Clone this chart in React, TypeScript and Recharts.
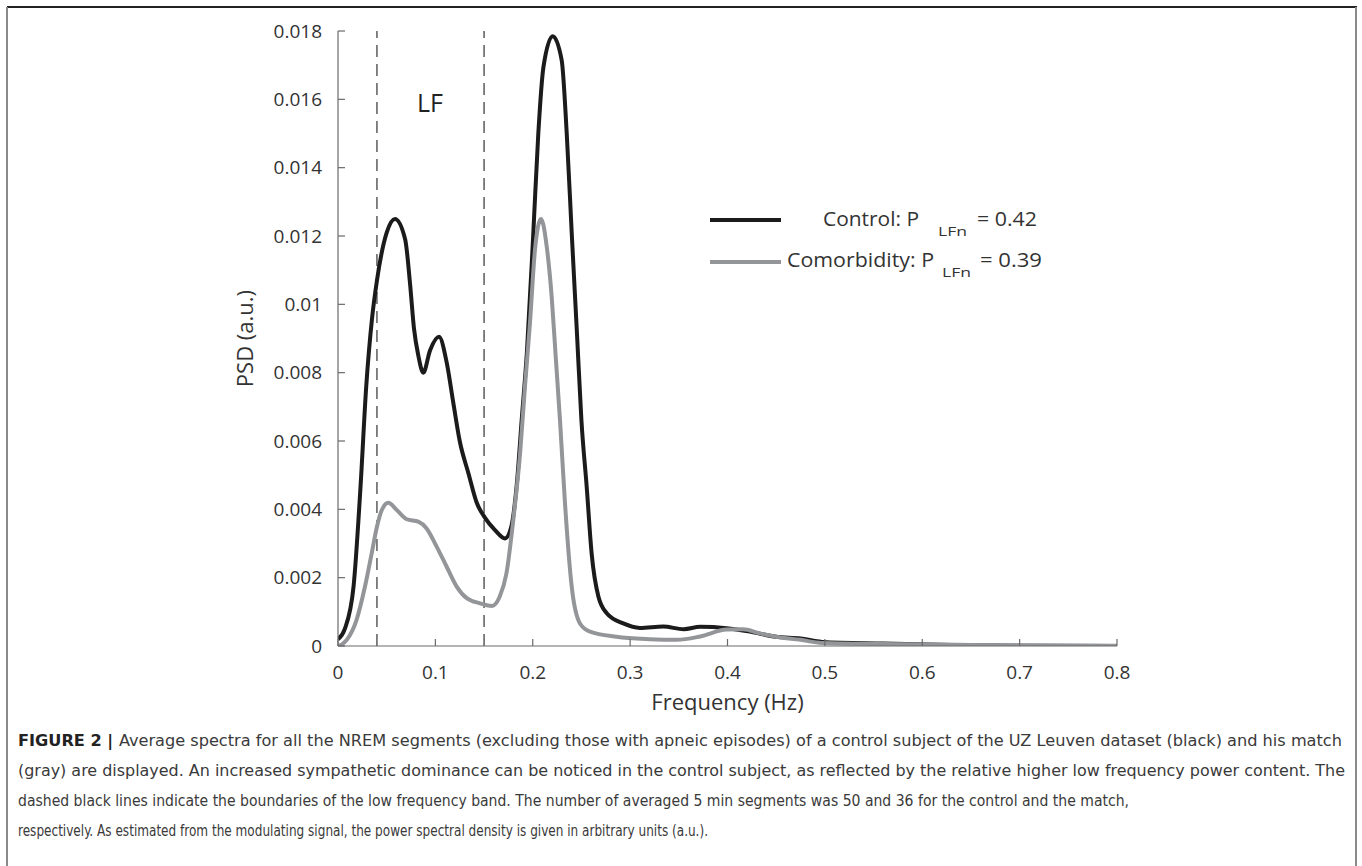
import React from 'react';
import { LineChart, Line, XAxis, YAxis, ReferenceLine, ReferenceDot, Legend } from 'recharts';

const controlFreq = [0, 0.007, 0.016, 0.023, 0.029, 0.035, 0.04, 0.05, 0.0585, 0.069, 0.074, 0.078, 0.0825, 0.0876, 0.0945, 0.1037, 0.1116, 0.1185, 0.125, 0.134, 0.1424, 0.151, 0.161, 0.1715, 0.178, 0.1835, 0.1886, 0.194, 0.2006, 0.2057, 0.211, 0.2205, 0.2297, 0.2349, 0.24, 0.2455, 0.25, 0.2554, 0.2605, 0.2674, 0.276, 0.293, 0.31, 0.334, 0.355, 0.372, 0.399, 0.423, 0.45, 0.475, 0.497, 0.56, 0.63, 0.7, 0.8];
const controlPsd = [0.0002, 0.0005, 0.00175, 0.0046, 0.0076, 0.0096, 0.0107, 0.0121, 0.0125, 0.0119, 0.0106, 0.0093, 0.0085, 0.008, 0.00865, 0.00905, 0.0083, 0.0071, 0.006, 0.00505, 0.0042, 0.00375, 0.0034, 0.00315, 0.0035, 0.0047, 0.0066, 0.0086, 0.0121, 0.015, 0.01695, 0.01785, 0.01715, 0.015, 0.0121, 0.0091, 0.0066, 0.00466, 0.0027, 0.00145, 0.00096, 0.00066, 0.00053, 0.00057, 0.00049, 0.00056, 0.00052, 0.00042, 0.00027, 0.00022, 0.00012, 0.00007, 0.00003, 0.00001, 0];

const comorbFreq = [0.001, 0.009, 0.019, 0.0277, 0.0346, 0.04, 0.045, 0.0517, 0.0603, 0.0706, 0.0825, 0.091, 0.1013, 0.1116, 0.1219, 0.1322, 0.1458, 0.158, 0.166, 0.173, 0.18, 0.187, 0.192, 0.197, 0.2023, 0.2085, 0.2143, 0.2195, 0.2235, 0.228, 0.2331, 0.24, 0.2485, 0.2588, 0.286, 0.32, 0.348, 0.372, 0.399, 0.416, 0.433, 0.45, 0.475, 0.497, 0.56, 0.65, 0.8];
const comorbPsd = [0, 0.00018, 0.00076, 0.00174, 0.00271, 0.00349, 0.00398, 0.00419, 0.00398, 0.00371, 0.00364, 0.00344, 0.00291, 0.00232, 0.00174, 0.0014, 0.00125, 0.00117, 0.00144, 0.00213, 0.00369, 0.00564, 0.00759, 0.0094, 0.0116, 0.0125, 0.0117, 0.0102, 0.0085, 0.0066, 0.00418, 0.00174, 0.00066, 0.00042, 0.00027, 0.0002, 0.00018, 0.00028, 0.00048, 0.00049, 0.00037, 0.00027, 0.00018, 0.00009, 0.00006, 0.00003, 0.00001];

const xTicks = [0, 0.1, 0.2, 0.3, 0.4, 0.5, 0.6, 0.7, 0.8];
const xTickLabels = ['0', '0.1', '0.2', '0.3', '0.4', '0.5', '0.6', '0.7', '0.8'];
const yTicks = [0, 0.002, 0.004, 0.006, 0.008, 0.01, 0.012, 0.014, 0.016, 0.018];
const yTickLabels = ['0', '0.002', '0.004', '0.006', '0.008', '0.01', '0.012', '0.014', '0.016', '0.018'];
const lfBand = [0.04, 0.15];
const lfLabel = { f: 0.0945, v: 0.0159, text: 'LF' };

const seriesNames = ['Control', 'Comorbidity'];
const seriesPlfn = ['0.42', '0.39'];

const captionLines = [
  'Average spectra for all the NREM segments (excluding those with apneic episodes) of a control subject of the UZ Leuven dataset (black) and his match',
  '(gray) are displayed. An increased sympathetic dominance can be noticed in the control subject, as reflected by the relative higher low frequency power content. The',
  'dashed black lines indicate the boundaries of the low frequency band. The number of averaged 5 min segments was 50 and 36 for the control and the match,',
  'respectively. As estimated from the modulating signal, the power spectral density is given in arbitrary units (a.u.).',
];

const controlData = controlFreq.map((f, i) => ({ f, v: controlPsd[i] }));
const comorbData = comorbFreq.map((f, i) => ({ f, v: comorbPsd[i] }));

const BLACK = '#1b1b1b';
const GRAY = '#939598';
const AXIS = '#6a6a6a';
const TEXT = '#333333';

const xFmt = (v: number) => {
  const i = xTicks.indexOf(v);
  return i >= 0 ? xTickLabels[i] : String(v);
};
const yFmt = (v: number) => {
  const i = yTicks.indexOf(v);
  return i >= 0 ? yTickLabels[i] : String(v);
};

const LegendContent = () => (
  <svg width={400} height={110} style={{ display: 'block', overflow: 'visible' }}>
    <line x1={10} x2={81} y1={30} y2={30} stroke={BLACK} strokeWidth={4} />
    <text x={123} y={36} fontSize={20} fill={TEXT} textLength={96} lengthAdjust="spacingAndGlyphs">{seriesNames[0]}: P</text>
    <text x={238} y={46} fontSize={13} fill={TEXT} textLength={29} lengthAdjust="spacingAndGlyphs">LFn</text>
    <text x={277} y={36} fontSize={20} fill={TEXT} textLength={60} lengthAdjust="spacingAndGlyphs">= {seriesPlfn[0]}</text>
    <line x1={10} x2={81} y1={72} y2={72} stroke={GRAY} strokeWidth={4} />
    <text x={87} y={77} fontSize={20} fill={TEXT} textLength={147} lengthAdjust="spacingAndGlyphs">{seriesNames[1]}: P</text>
    <text x={242} y={87} fontSize={13} fill={TEXT} textLength={29} lengthAdjust="spacingAndGlyphs">LFn</text>
    <text x={280} y={77} fontSize={20} fill={TEXT} textLength={62} lengthAdjust="spacingAndGlyphs">= {seriesPlfn[1]}</text>
  </svg>
);

const captionEnds = [1342, 1345, 1129, 708];
const captionBase = [746, 776, 806, 836];

export default function App() {
  return (
    <div style={{ position: 'absolute', left: 0, top: 0, width: 1362, height: 866, background: '#fff', overflow: 'hidden', fontFamily: '"Open Sans", "Noto Sans", sans-serif' }}>
      <div style={{ position: 'absolute', left: 7, top: 6, width: 1350, height: 1.5, background: '#222' }} />
      <div style={{ position: 'absolute', left: 6, top: 7, width: 2, height: 870, background: '#8a8a8a' }} />
      <div style={{ position: 'absolute', left: 1355, top: 7, width: 2, height: 870, background: '#8a8a8a' }} />
      <div style={{ position: 'absolute', left: 0, top: 0 }}>
        <LineChart width={1362} height={866} margin={{ top: 31, right: 245, bottom: 108, left: 152 }}>
          <XAxis xAxisId="b" dataKey="f" type="number" domain={[0, 0.8]} allowDataOverflow ticks={xTicks} tickFormatter={xFmt} interval={0}
            height={112} tickSize={-7} tickMargin={27} stroke={AXIS} strokeWidth={1.2}
            tick={{ fill: TEXT, fontSize: 19 }}
            label={{ value: 'Frequency (Hz)', position: 'center', fontSize: 22, fill: TEXT }} />
          <XAxis xAxisId="t" orientation="top" type="number" domain={[0, 0.8]} allowDataOverflow ticks={xTicks} interval={0}
            height={0} tickSize={-7} tick={false} stroke={AXIS} strokeWidth={1.2} />
          <YAxis yAxisId="l" type="number" domain={[0, 0.018]} allowDataOverflow ticks={yTicks} tickFormatter={yFmt} interval={0}
            width={186} tickSize={-7} tickMargin={23} stroke={AXIS} strokeWidth={1.2}
            tick={{ fill: TEXT, fontSize: 19 }}
            label={{ value: 'PSD (a.u.)', position: 'center', angle: -90, fontSize: 22, fill: TEXT }} />
          <YAxis yAxisId="r" orientation="right" type="number" domain={[0, 0.018]} allowDataOverflow ticks={yTicks} interval={0}
            width={0} tickSize={-7} tick={false} stroke={AXIS} strokeWidth={1.2} />
          {lfBand.map((x) => (
            <ReferenceLine key={x} x={x} xAxisId="b" yAxisId="l" stroke="#333" strokeWidth={1.2} strokeDasharray="12 7" />
          ))}
          <ReferenceDot x={lfLabel.f} y={lfLabel.v} xAxisId="b" yAxisId="l" r={1} fill="none" stroke="none" ifOverflow="visible"
            label={{ value: lfLabel.text, position: 'center', fontSize: 25, fill: '#222' }} />
          <Line xAxisId="b" yAxisId="l" data={controlData} dataKey="v" type="monotone" stroke={BLACK} strokeWidth={4} dot={false} isAnimationActive={false} name={seriesNames[0]} />
          <Line xAxisId="b" yAxisId="l" data={comorbData} dataKey="v" type="monotone" stroke={GRAY} strokeWidth={4} dot={false} isAnimationActive={false} name={seriesNames[1]} />
          <Legend layout="horizontal" verticalAlign="middle" align="center" content={LegendContent}
            wrapperStyle={{ left: 700, top: 190, width: 400, height: 110 }} />
        </LineChart>
      </div>
      <svg width={1362} height={866} style={{ position: 'absolute', left: 0, top: 0, pointerEvents: 'none' }}>
        {captionLines.map((line, i) => (
          <text key={i} x={18} y={captionBase[i]} fontSize={15.5} fill="#3a3a3a"
            fontFamily='"Liberation Sans Narrow", "DejaVu Sans Condensed", "Liberation Sans", sans-serif'
            textLength={captionEnds[i] - 18} lengthAdjust="spacingAndGlyphs">
            {i === 0 ? <tspan fontWeight="bold" fill="#222">FIGURE 2 | </tspan> : null}
            {line}
          </text>
        ))}
      </svg>
    </div>
  );
}
